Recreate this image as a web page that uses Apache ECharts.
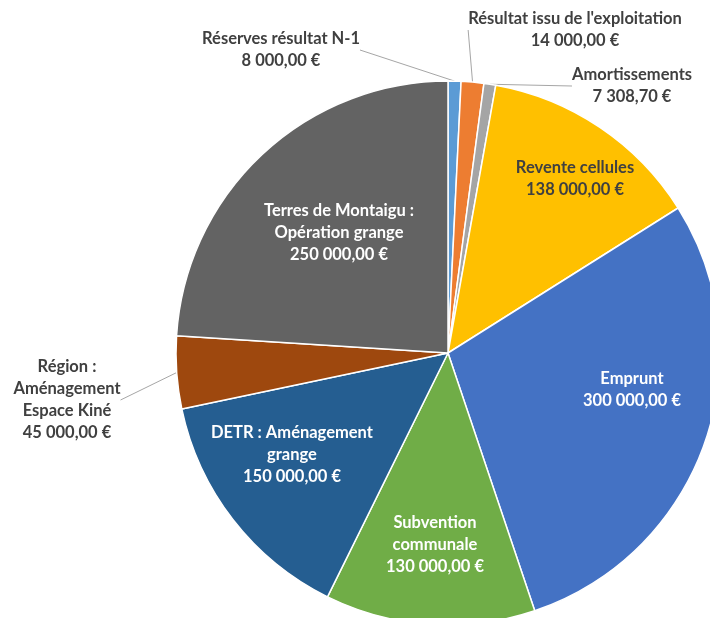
<!DOCTYPE html>
<html>
<head>
<meta charset="utf-8">
<script src="https://cdn.jsdelivr.net/npm/echarts@6/dist/echarts.min.js"></script>
<style>
html,body{margin:0;padding:0;background:#fff;}
#chart{width:710px;height:618px;}
</style>
</head>
<body>
<div id="chart"></div>
<script>
// ---- data ----
const categories = [
  'Réserves résultat N-1',
  "Résultat issu de l'exploitation",
  'Amortissements',
  'Revente cellules',
  'Emprunt',
  'Subvention\ncommunale',
  'DETR : Aménagement\ngrange',
  'Région :\nAménagement\nEspace Kiné',
  'Terres de Montaigu :\nOpération grange'
];
const values = [8000, 14000, 7308.70, 138000, 300000, 130000, 150000, 45000, 250000];

// ---- style / layout ----
const colors = ['#5B9BD5', '#ED7D31', '#A5A5A5', '#FFC000', '#4472C4', '#70AD47', '#255E91', '#9E480E', '#636363'];
const labelLayoutCfg = [
  {outside: true,  x: 281, y: 50,  color: '#404040'},
  {outside: true,  x: 575, y: 30,  color: '#404040'},
  {outside: true,  x: 632, y: 86,  color: '#404040'},
  {outside: false, x: 575, y: 179, color: '#404040'},
  {outside: false, x: 632, y: 390, color: '#ffffff'},
  {outside: false, x: 435, y: 545, color: '#ffffff'},
  {outside: false, x: 292, y: 455, color: '#ffffff'},
  {outside: true,  x: 67,  y: 400, color: '#404040'},
  {outside: false, x: 339, y: 233, color: '#ffffff'}
];

function fmt(v) {
  const parts = v.toFixed(2).split('.');
  return parts[0].replace(/\B(?=(\d{3})+(?!\d))/g, ' ') + ',' + parts[1] + ' €';
}

const seriesData = categories.map((name, i) => ({
  name: name,
  value: values[i],
  itemStyle: {color: colors[i]},
  label: {
    position: labelLayoutCfg[i].outside ? 'outside' : 'inside',
    color: labelLayoutCfg[i].color
  },
  labelLine: {show: labelLayoutCfg[i].outside}
}));

const chart = echarts.init(document.getElementById('chart'), null, {renderer: 'canvas'});
chart.setOption({
  animation: false,
  backgroundColor: '#ffffff',
  series: [{
    type: 'pie',
    center: [448, 353],
    radius: 272,
    startAngle: 90,
    clockwise: true,
    avoidLabelOverlap: false,
    itemStyle: {borderColor: '#ffffff', borderWidth: 1.5},
    label: {
      show: true,
      fontFamily: 'Lato',
      fontWeight: 'bold',
      fontSize: 16.5,
      lineHeight: 22,
      align: 'center',
      formatter: p => p.name + '\n' + fmt(p.value)
    },
    labelLine: {
      length: 10,
      length2: 0,
      lineStyle: {color: '#A6A6A6', width: 1}
    },
    labelLayout: function (params) {
      const c = labelLayoutCfg[params.dataIndex];
      return {x: c.x, y: c.y, align: 'center', verticalAlign: 'middle'};
    },
    emphasis: {disabled: true},
    data: seriesData
  }]
});
</script>
</body>
</html>
